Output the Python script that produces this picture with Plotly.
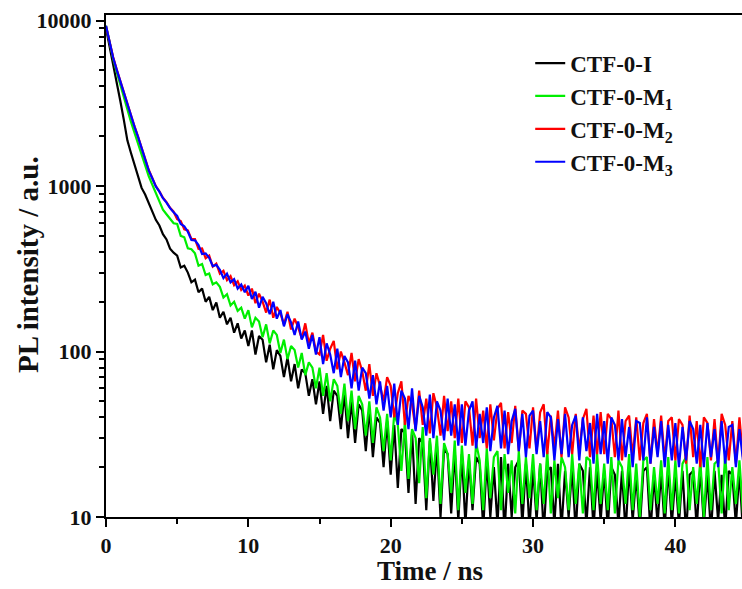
import plotly.graph_objects as go

# Time grid (ns): detector channels every 0.25 ns
STEP_NS = 0.25
N_POINTS = 180
TIME_NS = [round(STEP_NS * i, 2) for i in range(N_POINTS)]

SERIES_NAMES = ["CTF-0-I", "CTF-0-M<sub>1</sub>", "CTF-0-M<sub>2</sub>", "CTF-0-M<sub>3</sub>"]

# PL intensity (a.u.) (20 values per 5 ns)
CTF_0_I = [
    9000, 7000, 5480, 4420, 3290, 2520, 1890, 1590, 1340, 1160, 975, 890, 795, 708, 625, 578, 512, 476, 418, 396,
    380, 322, 330, 300, 262, 272, 228, 240, 200, 214, 178, 198, 160, 174, 146, 160, 130, 148, 120, 134,
    108, 134, 96, 124, 118, 86, 110, 78, 102, 94, 70, 92, 66, 84, 60, 78, 74, 54, 68, 48,
    66, 42, 62, 38, 58, 54, 34, 56, 30, 50, 28, 48, 44, 25, 45, 23, 40, 37, 20, 38,
    18, 36, 15, 34, 32, 14, 33, 12, 30, 28, 11, 29, 12.5, 27, 10, 26, 24, 10.5, 25, 9.5,
    24, 9, 22, 11, 23, 21, 8.5, 22, 10, 20, 9, 23, 8, 21, 10, 20, 22, 9, 21, 8.5,
    20, 9.5, 21, 8, 19, 20, 9, 21, 8.5, 19, 10, 20, 8, 21, 19, 9, 20, 8.5, 19, 9.5,
    19, 8.5, 20, 18, 9, 19, 8, 20, 9.5, 18, 8.5, 19, 20, 8, 18, 9, 19, 8.5, 20, 9,
    18, 9, 19, 8, 18, 19, 8.5, 20, 9, 18, 8, 19, 9.5, 18, 8.5, 19, 18, 9, 19, 8,
]

CTF_0_M1 = [
    9300, 7350, 5900, 4900, 4100, 3450, 2900, 2450, 2100, 1800, 1550, 1330, 1150, 1020, 900, 800, 720, 676, 635, 596,
    590, 500, 490, 420, 415, 392, 330, 338, 290, 296, 255, 262, 246, 212, 222, 190, 200, 176, 184, 158,
    178, 140, 160, 152, 122, 146, 112, 134, 126, 98, 118, 90, 108, 102, 80, 98, 72, 86, 80, 60,
    80, 54, 74, 50, 68, 62, 42, 64, 38, 58, 34, 54, 48, 31, 50, 28, 46, 40, 25, 42,
    22, 42, 36, 19, 38, 17, 34, 30, 16, 35, 13, 30, 18, 31, 12, 28, 24, 14, 29, 11,
    27, 14, 24, 12, 28, 22, 11, 26, 13, 23, 25, 11, 24, 14, 22, 10.5, 25, 12, 23, 13,
    24, 11, 21, 12, 25, 10.5, 22, 13, 23, 20, 11, 24, 12, 21, 10.5, 23, 22, 11, 24, 12,
    21, 11, 23, 10.5, 22, 20, 12, 24, 11, 21, 10, 22, 23, 11, 20, 12, 22, 10.5, 23, 11,
    22, 10.5, 21, 23, 11, 20, 12, 22, 10, 23, 11, 21, 22, 10.5, 24, 11, 20, 12, 22, 10.5,
]

CTF_0_M2 = [
    9250, 7450, 6020, 5080, 4310, 3680, 3110, 2670, 2300, 1990, 1705, 1470, 1255, 1120, 1000, 930, 850, 800, 740, 700,
    630, 615, 548, 540, 480, 478, 418, 420, 366, 380, 326, 340, 296, 308, 270, 286, 252, 266, 236, 250,
    218, 240, 196, 224, 200, 172, 206, 160, 186, 170, 146, 174, 136, 158, 140, 120, 148, 112, 130, 100,
    96, 126, 88, 104, 116, 78, 100, 86, 72, 98, 66, 90, 76, 58, 84, 54, 74, 62, 50, 70,
    62, 40, 56, 66, 36, 54, 48, 34, 58, 36, 52, 32, 56, 46, 31, 54, 33, 50, 30, 52,
    28, 50, 46, 27, 52, 30, 44, 26, 48, 29, 45, 49, 26, 43, 28, 47, 25, 44, 42, 26,
    46, 25, 43, 48, 24, 41, 26, 44, 23, 46, 40, 24, 42, 25, 39, 45, 23, 41, 24, 43,
    24, 42, 39, 23, 44, 22, 38, 41, 23, 40, 22, 37, 42, 21, 39, 24, 41, 22, 38, 40,
    22, 39, 36, 21, 41, 23, 38, 20, 40, 37, 22, 39, 21, 42, 36, 22, 38, 21, 40, 23,
]

CTF_0_M3 = [
    9300, 7420, 5980, 5060, 4290, 3660, 3090, 2660, 2290, 1985, 1695, 1465, 1245, 1115, 995, 925, 845, 795, 735, 695,
    660, 590, 572, 530, 472, 470, 440, 388, 392, 368, 328, 334, 312, 278, 296, 262, 274, 240, 254, 228,
    250, 208, 230, 184, 214, 196, 168, 200, 158, 178, 142, 168, 150, 126, 152, 118, 132, 104, 126, 96,
    122, 84, 112, 96, 74, 104, 70, 94, 86, 60, 88, 58, 80, 74, 52, 72, 48, 66, 44, 62,
    40, 64, 36, 58, 52, 34, 60, 33, 54, 46, 31, 55, 30, 50, 44, 29, 52, 31, 48, 27,
    48, 27, 44, 50, 26, 42, 28, 46, 25, 40, 47, 26, 44, 24, 38, 45, 25, 42, 23, 41,
    44, 24, 38, 23, 43, 40, 22, 39, 24, 42, 23, 36, 41, 22, 40, 25, 37, 21, 42, 24,
    38, 21, 40, 36, 22, 39, 23, 35, 20, 38, 37, 22, 40, 21, 35, 23, 38, 20, 36, 22,
    37, 20, 35, 22, 38, 34, 21, 36, 20, 37, 23, 34, 20, 38, 21, 35, 36, 20, 34, 22,
]

SERIES_VALUES = [CTF_0_I, CTF_0_M1, CTF_0_M2, CTF_0_M3]
SERIES_COLORS = ["#000000", "#00ee00", "#ff0000", "#0000ff"]

Y_TICKS = [10, 100, 1000, 10000]
Y_TICK_LABELS = ["10", "100", "1000", "10000"]
X_TICKS = [0, 10, 20, 30, 40]

FONT = "Liberation Serif"
TXT = "#111111"

fig = go.Figure()
for name, vals, col in zip(SERIES_NAMES, SERIES_VALUES, SERIES_COLORS):
    fig.add_trace(go.Scatter(
        x=TIME_NS, y=vals, mode="lines", name=name,
        line=dict(color=col, width=2.2),
    ))

minor_y = [m * 10 ** e for e in range(1, 4) for m in range(2, 10)]

fig.update_layout(
    width=742, height=589,
    margin=dict(l=106, r=0, t=15, b=72),
    paper_bgcolor="white", plot_bgcolor="white",
    showlegend=True,
    legend=dict(
        x=0.667, y=0.947, xanchor="left", yanchor="top",
        font=dict(family=FONT, size=23, color=TXT, weight="bold"),
        bgcolor="rgba(0,0,0,0)", tracegroupgap=0,
    ),
    xaxis=dict(
        range=[0, 44.68], showgrid=False, zeroline=False,
        showline=True, linecolor="black", linewidth=2, mirror=True,
        ticks="outside", ticklen=8, tickwidth=2, tickcolor="black",
        tickvals=X_TICKS,
        minor=dict(dtick=5, tick0=0, ticks="outside", ticklen=5, tickwidth=2, tickcolor="black", showgrid=False),
        tickfont=dict(family=FONT, size=22, color=TXT, weight="bold"),
    ),
    yaxis=dict(
        type="log", range=[1, 4.034], showgrid=False, zeroline=False,
        showline=True, linecolor="black", linewidth=2, mirror=False,
        ticks="outside", ticklen=8, tickwidth=2, tickcolor="black",
        tickvals=Y_TICKS, ticktext=Y_TICK_LABELS,
        minor=dict(tickvals=minor_y, ticks="outside", ticklen=5, tickwidth=1.5, tickcolor="black", showgrid=False),
        tickfont=dict(family=FONT, size=22, color=TXT, weight="bold"),
    ),
    annotations=[
        dict(text="Time / ns", xref="paper", yref="paper", x=0.509, y=-0.108,
             xanchor="center", yanchor="middle", showarrow=False,
             font=dict(family=FONT, size=27, color=TXT, weight="bold")),
        dict(text="PL intensity / a.u.", xref="paper", yref="paper", x=-0.1226, y=0.502,
             xanchor="center", yanchor="middle", textangle=-90, showarrow=False,
             font=dict(family=FONT, size=29, color=TXT, weight="bold")),
    ],
)

fig.write_html("out.html")
